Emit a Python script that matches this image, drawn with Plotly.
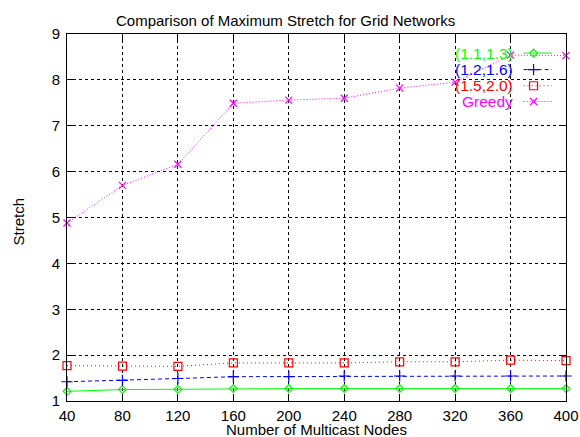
import plotly.graph_objects as go

nodes = [40, 80, 120, 160, 200, 240, 280, 320, 360, 400]
s_11_13 = [1.21, 1.25, 1.255, 1.27, 1.27, 1.27, 1.27, 1.27, 1.27, 1.27]
s_12_16 = [1.42, 1.45, 1.49, 1.53, 1.53, 1.545, 1.545, 1.545, 1.545, 1.545]
s_15_20 = [1.77, 1.76, 1.755, 1.83, 1.83, 1.83, 1.855, 1.855, 1.89, 1.88]
greedy = [4.88, 5.70, 6.16, 7.49, 7.56, 7.60, 7.82, 7.95, 8.54, 8.53]

series_names = ["(1.1,1.3)", "(1.2,1.6)", "(1.5,2.0)", "Greedy"]
series_vals = [s_11_13, s_12_16, s_15_20, greedy]
colors = ["#00ff00", "#0000ff", "#ff0000", "#ff00ff"]
dashes = ["solid", "4px,3px", "1px,3px", "1px,2px"]
symbols = ["diamond-open", "cross-thin-open", "square-open", "x-thin-open"]
msizes = [6, 8, 8, 7]

x_ticks = [40, 80, 120, 160, 200, 240, 280, 320, 360, 400]
y_ticks = [1, 2, 3, 4, 5, 6, 7, 8, 9]

FONT = "Liberation Sans, Arial, sans-serif"

fig = go.Figure()
for name, vals, c, d, s, ms in zip(series_names, series_vals, colors, dashes, symbols, msizes):
    fig.add_trace(go.Scatter(
        x=nodes, y=vals, mode="lines+markers", name=name,
        line=dict(color=c, width=1, dash=d),
        marker=dict(symbol=s, size=ms, color=c, line=dict(color=c, width=1.2)),
        showlegend=False, cliponaxis=False,
    ))

# manual gnuplot-style legend (text left, sample right)
row_y = [0.948, 0.903, 0.859, 0.816]
lx0, lx1, lmk = 0.915, 0.972, 0.935
for name, c, d, s, ms, ry in zip(series_names, colors, dashes, symbols, msizes, row_y):
    fig.add_trace(go.Scatter(
        x=[lx0, lx1], y=[ry, ry], mode="lines", xaxis="x2", yaxis="y2",
        line=dict(color=c, width=1, dash=d), showlegend=False, hoverinfo="skip"))
    fig.add_trace(go.Scatter(
        x=[lmk], y=[ry], mode="markers", xaxis="x2", yaxis="y2",
        marker=dict(symbol=s, size=ms, color=c, line=dict(color=c, width=1.2)),
        showlegend=False, hoverinfo="skip"))
    fig.add_annotation(x=0.898, y=ry, xref="paper", yref="paper", text=name,
                       showarrow=False, xanchor="right", yanchor="middle",
                       font=dict(family=FONT, size=15.5, color=c))

axis_common = dict(
    showline=True, linecolor="black", linewidth=1, mirror="ticks",
    ticks="inside", ticklen=6, tickcolor="black", tickwidth=1,
    showgrid=True, gridcolor="black", griddash="dot", gridwidth=1,
    zeroline=False, automargin=False, ticklabeloverflow="allow",
    tickfont=dict(family=FONT, size=15, color="black"),
)

fig.update_layout(
    width=580, height=437,
    margin=dict(l=67, r=14, t=34, b=36),
    paper_bgcolor="white", plot_bgcolor="white",
    font=dict(family=FONT, color="black"),
    xaxis=dict(range=[40, 400], tickvals=x_ticks, ticklabelstandoff=1, **axis_common),
    yaxis=dict(range=[1, 9], tickvals=y_ticks, ticklabelstandoff=3, **axis_common),
    xaxis2=dict(overlaying="x", range=[0, 1], visible=False, fixedrange=True, automargin=False),
    yaxis2=dict(overlaying="y", range=[0, 1], visible=False, fixedrange=True, automargin=False),
    showlegend=False,
)

fig.add_annotation(x=0.437, y=1.0, xref="paper", yref="paper", yshift=14,
                   yanchor="middle",
                   text="Comparison of Maximum Stretch for Grid Networks",
                   showarrow=False, font=dict(family=FONT, size=15))
fig.add_annotation(x=0.5, y=0, xref="paper", yref="paper", yshift=-28,
                   text="Number of Multicast Nodes", showarrow=False,
                   yanchor="middle", font=dict(family=FONT, size=15))
fig.add_annotation(x=0, y=0.5, xref="paper", yref="paper", xshift=-49, yshift=-4,
                   text="Stretch", textangle=-90, showarrow=False,
                   xanchor="center", yanchor="middle", font=dict(family=FONT, size=15))

fig.write_html(
    "out.html",
    config={"displayModeBar": False},
    post_script="document.body.style.margin='0';document.body.style.overflow='hidden';",
)
